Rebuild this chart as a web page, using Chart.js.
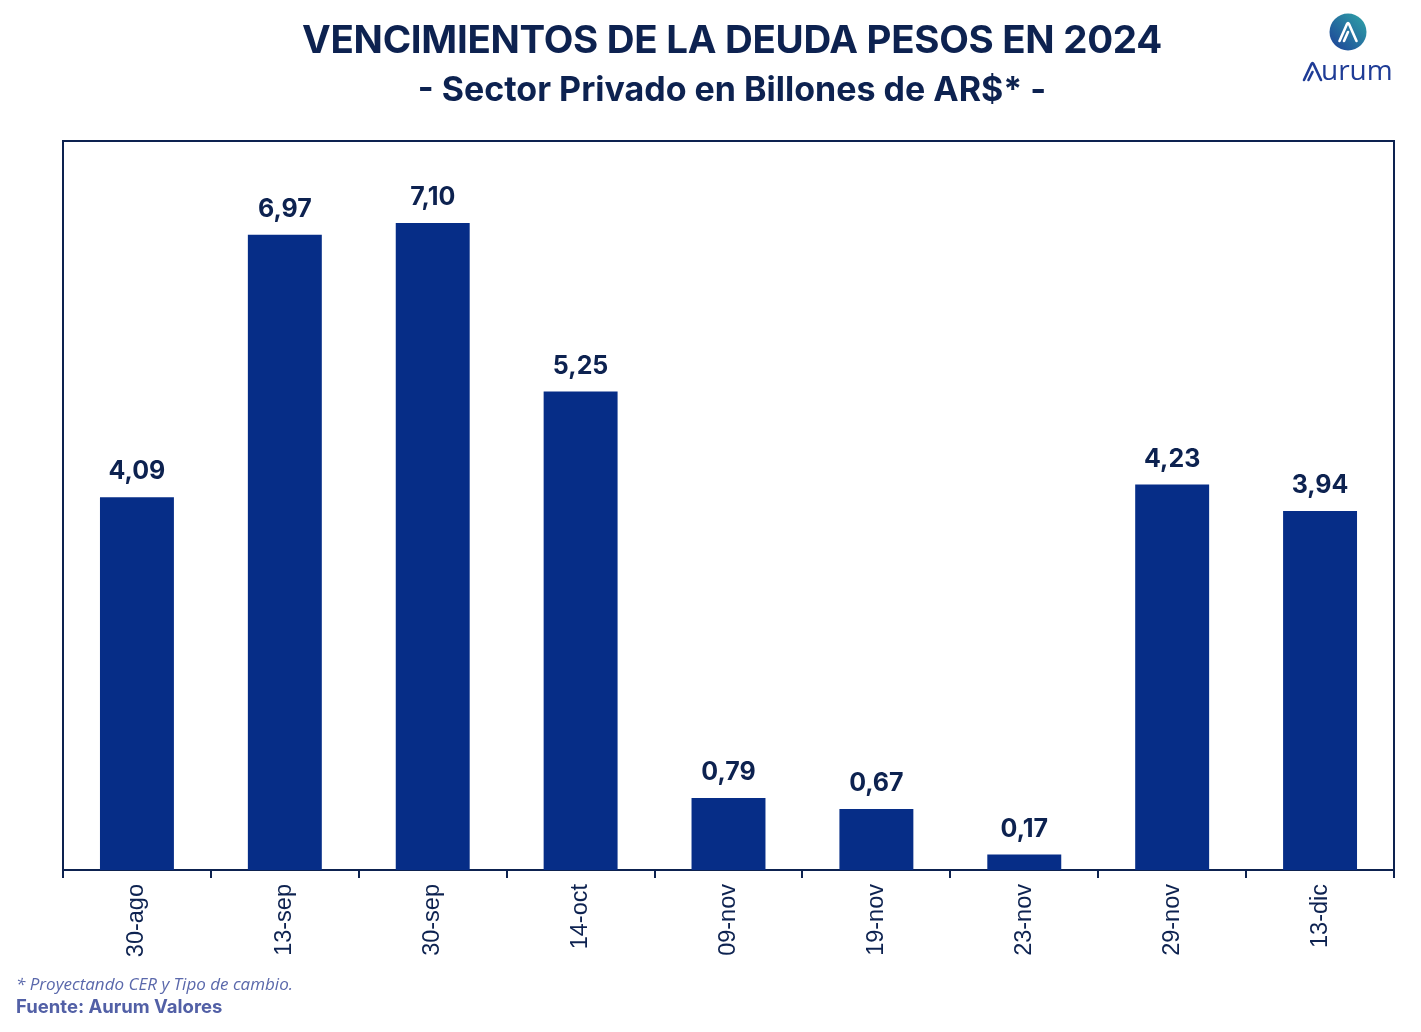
<!DOCTYPE html>
<html>
<head>
<meta charset="utf-8">
<script src="https://cdn.jsdelivr.net/npm/chart.js@4.4.1/dist/chart.umd.min.js"></script>
<style>
  html, body { margin: 0; padding: 0; background: #fff; }
  #wrap { position: relative; width: 1421px; height: 1032px; overflow: hidden; }
  #cv { position: absolute; left: 0; top: 0; }
  .title { position: absolute; left: 0; width: 1464px; text-align: center; color: #0d2250; font-family: Inter, "Open Sans", sans-serif; font-weight: 700; white-space: nowrap; }
  #t1 { top: 16px; font-size: 38.5px; letter-spacing: -0.3px; }
  #t2 { top: 68px; font-size: 34px; }
  #note { position: absolute; left: 16px; top: 972px; font: italic 17px "Open Sans", sans-serif; color: #5a68ab; }
  #src { position: absolute; left: 16px; top: 995px; font: 700 18.5px Inter, "Open Sans", sans-serif; color: #5260a6; }
  #logo { position: absolute; left: 1300px; top: 10px; width: 94px; height: 76px; }
</style>
</head>
<body>
<div id="wrap">
  <canvas id="cv" width="1421" height="1032"></canvas>
  <div class="title" id="t1">VENCIMIENTOS DE LA DEUDA PESOS EN 2024</div>
  <div class="title" id="t2">- Sector Privado en Billones de AR$* -</div>
  <svg id="logo" viewBox="0 0 94 76">
    <defs>
      <linearGradient id="lg" x1="0" y1="1" x2="1" y2="0">
        <stop offset="0" stop-color="#1d3f97"/>
        <stop offset="1" stop-color="#2fa6a8"/>
      </linearGradient>
    </defs>
    <circle cx="48" cy="22" r="18.5" fill="url(#lg)"/>
    <path d="M39.5 31 L47 14 Q48 12 49 14 L56.5 31 M44 31 L48 22" fill="none" stroke="#fff" stroke-width="2.6" stroke-linecap="round" stroke-linejoin="round"/>
    <path d="M4 70 L11.5 54 Q12.5 52 13.5 54 L21 70 M8.5 70 L12.5 62" fill="none" stroke="#1f3c96" stroke-width="2.6" stroke-linecap="round" stroke-linejoin="round"/>
    <text x="21" y="70" font-family="'Open Sans', sans-serif" font-size="28" fill="#1f3c96">urum</text>
  </svg>
  <div id="note">* Proyectando CER y Tipo de cambio.</div>
  <div id="src">Fuente: Aurum Valores</div>
</div>
<script>
  // fechas de vencimiento y montos (billones de AR$)
  const fechas = ['30-ago', '13-sep', '30-sep', '14-oct', '09-nov', '19-nov', '23-nov', '29-nov', '13-dic'];
  const montos = [4.09, 6.97, 7.10, 5.25, 0.79, 0.67, 0.17, 4.23, 3.94];

  const NAVY = '#0d2250';
  const BAR = '#062d87';
  const fmt = (n) => n.toFixed(2).replace('.', ',');

  // recuadro del area del grafico
  const boxPlugin = {
    id: 'box',
    afterDraw(chart) {
      const { ctx, chartArea: a } = chart;
      ctx.save();
      ctx.strokeStyle = NAVY;
      ctx.lineWidth = 2;
      ctx.beginPath();
      ctx.moveTo(a.left, a.bottom);
      ctx.lineTo(a.left, a.top);
      ctx.lineTo(a.right, a.top);
      ctx.lineTo(a.right, a.bottom);
      ctx.stroke();
      ctx.restore();
    }
  };

  // etiquetas de valor encima de cada barra
  const labelPlugin = {
    id: 'vals',
    afterDatasetsDraw(chart) {
      const { ctx } = chart;
      const meta = chart.getDatasetMeta(0);
      ctx.save();
      ctx.fillStyle = NAVY;
      ctx.font = '700 25px Inter, "Open Sans", sans-serif';
      ctx.textAlign = 'center';
      ctx.textBaseline = 'alphabetic';
      meta.data.forEach((bar, i) => {
        ctx.fillText(fmt(montos[i]), bar.x, bar.y - 18);
      });
      ctx.restore();
    }
  };

  new Chart(document.getElementById('cv'), {
    type: 'bar',
    data: {
      labels: fechas,
      datasets: [{ data: montos, backgroundColor: BAR, barPercentage: 0.5, categoryPercentage: 1 }]
    },
    options: {
      responsive: false,
      animation: false,
      layout: { padding: { left: 63, right: 27, top: 141, bottom: 0 } },
      plugins: { legend: { display: false }, tooltip: { enabled: false } },
      scales: {
        x: {
          afterFit: (s) => { s.height = 1032 - 870; },
          border: { color: NAVY, width: 2 },
          grid: { drawOnChartArea: false, color: NAVY, lineWidth: 2, tickLength: 8, offset: true },
          ticks: { color: NAVY, minRotation: 90, maxRotation: 90, padding: 6, font: { family: '"Liberation Sans", Arial, sans-serif', size: 23.5 } }
        },
        y: { display: false, min: 0, max: 8 }
      }
    },
    plugins: [boxPlugin, labelPlugin]
  });
</script>
</body>
</html>
